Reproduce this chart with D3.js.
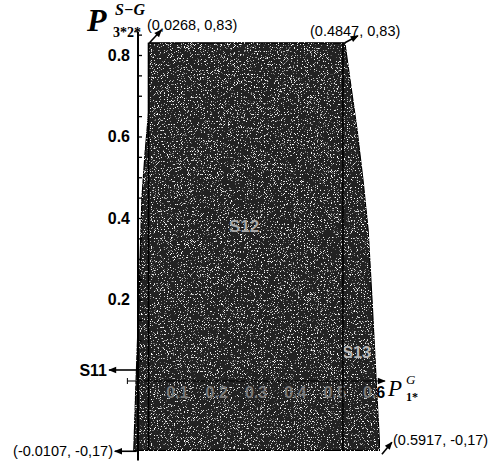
<!DOCTYPE html>
<html>
<head>
<meta charset="utf-8">
<script src="https://d3js.org/d3.v7.min.js"></script>
<style>
  body { margin: 0; background: #fff; }
  svg text { font-family: "Liberation Sans", Arial, sans-serif; }
  .serif { font-family: "Liberation Serif", "Times New Roman", serif !important; }
</style>
</head>
<body>
<script>
"use strict";

// boundary of the feasible region (x = P1*, y = P3*2*)
var leftEdge = [[0.0268, 0.83], [0.0268, 0.658], [0.018, 0.56], [0.010, 0.45],
                [0.005, 0.29], [0.0025, 0.2], [-0.005, 0], [-0.0107, -0.17]];
var rightEdge = [[0.526, 0.83], [0.539, 0.739], [0.557, 0.616], [0.572, 0.493],
                 [0.585, 0.371], [0.595, 0.199], [0.608, -0.047], [0.615, -0.17]];
var innerLines = [0.0268, 0.521];

var yMajor = [0.2, 0.4, 0.6, 0.8];
var yMinor = [0.05, 0.1, 0.15, 0.2, 0.25, 0.3, 0.35, 0.4, 0.45, 0.5, 0.55,
              0.6, 0.65, 0.7, 0.75, 0.8, 0.85];
var xTicks = [0.1, 0.2, 0.3, 0.4, 0.5, 0.6];
var yRange = [-0.195, 0.857];
var xRange = [-0.027, 0.628];

var cornerLabels = ["(0,0268, 0,83)", "(0.4847, 0,83)", "(-0.0107, -0,17)", "(0.5917, -0,17)"];
var regionLabels = ["S11", "S12", "S13"];

var width = 489, height = 464;

var x = d3.scaleLinear().domain([0, 0.6]).range([138, 374]);
var y = d3.scaleLinear().domain([0, 0.8]).range([381, 55]);

var svg = d3.select("body").append("svg")
    .attr("width", width)
    .attr("height", height);

var defs = svg.append("defs");

var outline = leftEdge.concat(rightEdge.slice().reverse());
var line = d3.line().x(function (d) { return x(d[0]); }).y(function (d) { return y(d[1]); });
var regionPath = line(outline) + "Z";

defs.append("clipPath").attr("id", "regionClip")
  .append("path").attr("d", regionPath);

// grainy scan look
var f = defs.append("filter").attr("id", "speckle")
    .attr("x", "0").attr("y", "0").attr("width", "1").attr("height", "1");
f.append("feTurbulence").attr("type", "fractalNoise").attr("baseFrequency", "1.3")
  .attr("numOctaves", 1).attr("seed", 7).attr("result", "n");
f.append("feColorMatrix").attr("in", "n").attr("type", "matrix")
  .attr("values", "0 0 0 0 1  0 0 0 0 1  0 0 0 0 1  9 0 0 0 -5.4").attr("result", "dots");
f.append("feComposite").attr("in", "dots").attr("in2", "SourceGraphic")
  .attr("operator", "in").attr("result", "d2");
var m = f.append("feMerge");
m.append("feMergeNode").attr("in", "SourceGraphic");
m.append("feMergeNode").attr("in", "d2");

defs.append("marker").attr("id", "arrow")
    .attr("viewBox", "0 -5 10 10")
    .attr("refX", 9).attr("refY", 0)
    .attr("markerUnits", "userSpaceOnUse")
    .attr("markerWidth", 9).attr("markerHeight", 8)
    .attr("orient", "auto")
  .append("path").attr("d", "M0,-4L10,0L0,4Z").attr("fill", "#000");

// x tick labels, black (only the part outside the region shows)
var xLab = svg.append("g");
xLab.selectAll("text").data(xTicks).enter().append("text")
    .attr("x", function (d) { return x(d); })
    .attr("y", y(0) + 17)
    .attr("text-anchor", "middle")
    .style("font-size", "16px").style("font-weight", "bold")
    .text(function (d) { return d3.format(".1f")(d); });

// region
svg.append("path")
    .attr("d", regionPath)
    .attr("fill", "#232323")
    .attr("stroke", "#000")
    .attr("stroke-width", 1.2)
    .attr("filter", "url(#speckle)");

// faint labels printed over the dark area
var inside = svg.append("g").attr("clip-path", "url(#regionClip)");
inside.selectAll("text").data(xTicks).enter().append("text")
    .attr("x", function (d) { return x(d); })
    .attr("y", y(0) + 17)
    .attr("text-anchor", "middle")
    .attr("fill", "#7a7a7a")
    .style("font-size", "16px").style("font-weight", "bold")
    .text(function (d) { return d3.format(".1f")(d); });

svg.append("text").attr("x", x(0.27)).attr("y", y(0.365))
    .attr("text-anchor", "middle").attr("fill", "#a8a8a8")
    .style("font-size", "17px").style("font-weight", "bold")
    .text(regionLabels[1]);
svg.append("text").attr("x", x(0.556)).attr("y", y(0.056))
    .attr("text-anchor", "middle").attr("fill", "#b8b8b8")
    .style("font-size", "16px").style("font-weight", "bold")
    .text(regionLabels[2]);

// inner boundaries
svg.selectAll(".inner").data(innerLines).enter().append("line")
    .attr("class", "inner")
    .attr("x1", function (d) { return x(d); }).attr("x2", function (d) { return x(d); })
    .attr("y1", y(0.83)).attr("y2", y(-0.17))
    .attr("stroke", "#000").attr("stroke-width", 1.6);

// axes
svg.append("line")
    .attr("x1", x(xRange[0])).attr("x2", x(xRange[1]))
    .attr("y1", y(0)).attr("y2", y(0))
    .attr("stroke", "#000").attr("stroke-width", 1.2)
    .attr("marker-end", "url(#arrow)");
svg.append("line")
    .attr("x1", x(xRange[0])).attr("x2", x(xRange[0]))
    .attr("y1", y(0) - 3).attr("y2", y(0) + 3)
    .attr("stroke", "#000");

svg.append("line")
    .attr("x1", x(0)).attr("x2", x(0))
    .attr("y1", y(yRange[0])).attr("y2", y(yRange[1]))
    .attr("stroke", "#000").attr("stroke-width", 2);
svg.append("line")
    .attr("x1", x(0) - 4).attr("x2", x(0))
    .attr("y1", y(yRange[1])).attr("y2", y(yRange[1]))
    .attr("stroke", "#000");

var yMinorAxis = d3.axisLeft(y).tickValues(yMinor).tickSize(-4).tickFormat("");
svg.append("g").attr("transform", "translate(" + x(0) + ",0)")
    .call(yMinorAxis)
    .call(function (g) { g.select(".domain").remove(); })
    .selectAll("line").attr("stroke-width", 1.3);

var yAxis = d3.axisLeft(y).tickValues(yMajor).tickSize(0).tickPadding(8)
    .tickFormat(d3.format(".1f"));
svg.append("g").attr("transform", "translate(" + x(0) + ",0)")
    .call(yAxis)
    .call(function (g) { g.select(".domain").remove(); })
    .selectAll("text")
    .attr("fill", "#000")
    .style("font-size", "16px").style("font-weight", "bold")
    .style("font-family", "'Liberation Sans', Arial, sans-serif");

// axis titles
svg.append("text").attr("class", "serif").attr("x", 87).attr("y", 31)
    .style("font-size", "32px").style("font-style", "italic").style("font-weight", "bold")
    .text("P");
svg.append("text").attr("class", "serif").attr("x", 115).attr("y", 15)
    .style("font-size", "16px").style("font-style", "italic").style("font-weight", "bold")
    .text("S\u2212G");
svg.append("text").attr("class", "serif").attr("x", 113).attr("y", 37)
    .style("font-size", "14px").style("font-weight", "bold")
    .text("3*2*");

svg.append("text").attr("class", "serif").attr("x", 388).attr("y", 396)
    .style("font-size", "23px").style("font-style", "italic").text("P");
svg.append("text").attr("class", "serif").attr("x", 406).attr("y", 384)
    .style("font-size", "13px").style("font-style", "italic").text("G");
svg.append("text").attr("class", "serif").attr("x", 406).attr("y", 401)
    .style("font-size", "12px").style("font-weight", "bold").text("1*");

// corner annotations
var tl = leftEdge[0], tr = rightEdge[0],
    bl = leftEdge[leftEdge.length - 1], br = rightEdge[rightEdge.length - 1];

function arrow(x1, y1, x2, y2) {
  svg.append("line")
      .attr("x1", x1).attr("y1", y1).attr("x2", x2).attr("y2", y2)
      .attr("stroke", "#000").attr("stroke-width", 1.6)
      .attr("marker-end", "url(#arrow)");
}
function note(px, py, s, anchor) {
  svg.append("text").attr("x", px).attr("y", py)
      .attr("text-anchor", anchor || "start")
      .style("font-size", "14.5px")
      .text(s);
}

arrow(x(tl[0]) + 1, y(tl[1]), x(tl[0]) + 13, y(tl[1]) - 13);
note(147, 30, cornerLabels[0]);
arrow(x(tr[0]), y(tr[1]), x(tr[0]) + 13, y(tr[1]) - 7);
note(310, 36, cornerLabels[1]);
arrow(x(bl[0]) + 3, y(bl[1]) + 1, x(bl[0]) - 19, y(bl[1]) + 1);
note(113, 456, cornerLabels[2], "end");
arrow(x(br[0]) + 2, y(br[1]) + 4, x(br[0]) + 12, y(br[1]) - 8);
note(393, 445, cornerLabels[3]);

// S11 pointer
arrow(x(0) + 2, y(0.027), x(0) - 29, y(0.027));
svg.append("text").attr("x", 107).attr("y", y(0.027) + 6)
    .attr("text-anchor", "end")
    .style("font-size", "16px").style("font-weight", "bold")
    .text(regionLabels[0]);
</script>
</body>
</html>
